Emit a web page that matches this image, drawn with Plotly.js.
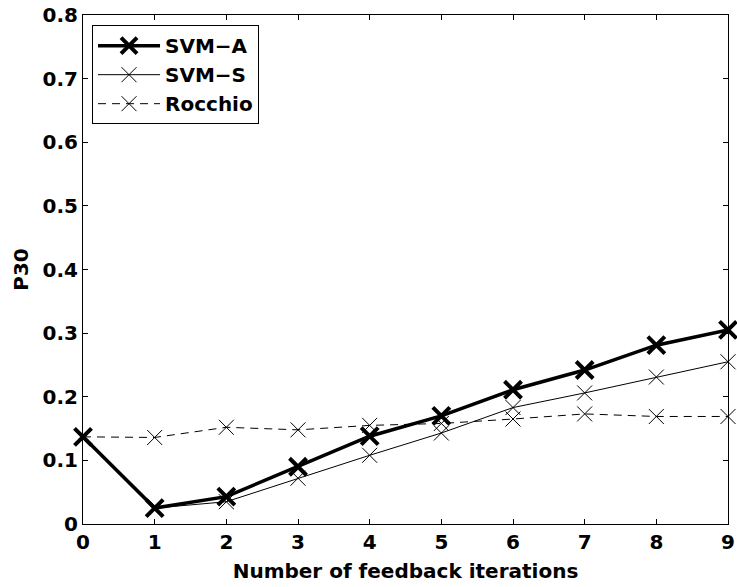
<!DOCTYPE html>
<html>
<head>
<meta charset="utf-8">
<script src="https://cdn.plot.ly/plotly-3.0.1.min.js"></script>
<style>
  html, body { margin: 0; padding: 0; background: #fff; }
  #chart { width: 737px; height: 587px; }
</style>
</head>
<body>
<div id="chart"></div>
<script>
// Feedback iterations on the x axis
const iterations = [0, 1, 2, 3, 4, 5, 6, 7, 8, 9];

// P30 per iteration for each method
const svmA    = [0.137, 0.025, 0.043, 0.090, 0.138, 0.170, 0.211, 0.242, 0.281, 0.305];
const svmS    = [0.137, 0.025, 0.035, 0.072, 0.108, 0.143, 0.183, 0.206, 0.231, 0.255];
const rocchio = [0.137, 0.136, 0.152, 0.148, 0.155, 0.158, 0.165, 0.173, 0.169, 0.169];

const seriesNames = ['SVM\u2212A', 'SVM\u2212S', 'Rocchio'];

const xTicks = [0, 1, 2, 3, 4, 5, 6, 7, 8, 9];
const yTicks = [0, 0.1, 0.2, 0.3, 0.4, 0.5, 0.6, 0.7, 0.8];
const yTickText = ['0', '0.1', '0.2', '0.3', '0.4', '0.5', '0.6', '0.7', '0.8'];

const fontFamily = 'DejaVu Sans, Liberation Sans, Arial, sans-serif';
const boldFont = { family: fontFamily, size: 20, color: '#000', weight: 'bold' };

const traces = [
  {
    x: iterations, y: svmA, name: seriesNames[0],
    type: 'scatter', mode: 'lines+markers', cliponaxis: false,
    line: { color: '#000', width: 3.5 },
    marker: { symbol: 'x-thin-open', size: 17, color: '#000', line: { color: '#000', width: 4 } }
  },
  {
    x: iterations, y: svmS, name: seriesNames[1],
    type: 'scatter', mode: 'lines+markers', cliponaxis: false,
    line: { color: '#000', width: 1 },
    marker: { symbol: 'x-thin-open', size: 15, color: '#000', line: { color: '#000', width: 1 } }
  },
  {
    x: iterations, y: rocchio, name: seriesNames[2],
    type: 'scatter', mode: 'lines+markers', cliponaxis: false,
    line: { color: '#000', width: 1, dash: '8px,6px' },
    marker: { symbol: 'x-thin-open', size: 15, color: '#000', line: { color: '#000', width: 1 } }
  }
];

const layout = {
  width: 737, height: 587,
  margin: { l: 83, r: 9, t: 15, b: 63 },
  paper_bgcolor: '#fff', plot_bgcolor: '#fff',
  showlegend: true,
  font: boldFont,
  xaxis: {
    range: [0, 9],
    tickvals: xTicks,
    ticktext: xTicks.map(String),
    ticks: 'inside', ticklen: 5, tickwidth: 1, tickcolor: '#000',
    showline: true, linecolor: '#000', linewidth: 1, mirror: 'ticks',
    showgrid: false, zeroline: false,
    tickfont: boldFont,
    title: { text: 'Number of feedback iterations', font: boldFont, standoff: 10 }
  },
  yaxis: {
    range: [0, 0.8],
    tickvals: yTicks,
    ticktext: yTickText,
    ticks: 'inside', ticklen: 5, tickwidth: 1, tickcolor: '#000',
    showline: true, linecolor: '#000', linewidth: 1, mirror: 'ticks',
    showgrid: false, zeroline: false,
    tickfont: boldFont,
    title: { text: 'P30', font: boldFont, standoff: 8 }
  },
  legend: {
    x: 0.014, y: 0.98, xanchor: 'left', yanchor: 'top',
    bgcolor: '#fff', bordercolor: '#000', borderwidth: 1,
    font: boldFont,
    itemwidth: 62,
    entrywidth: 170, entrywidthmode: 'pixels',
    tracegroupgap: 0
  }
};

Plotly.newPlot('chart', traces, layout, { displayModeBar: false, staticPlot: true });
</script>
</body>
</html>
